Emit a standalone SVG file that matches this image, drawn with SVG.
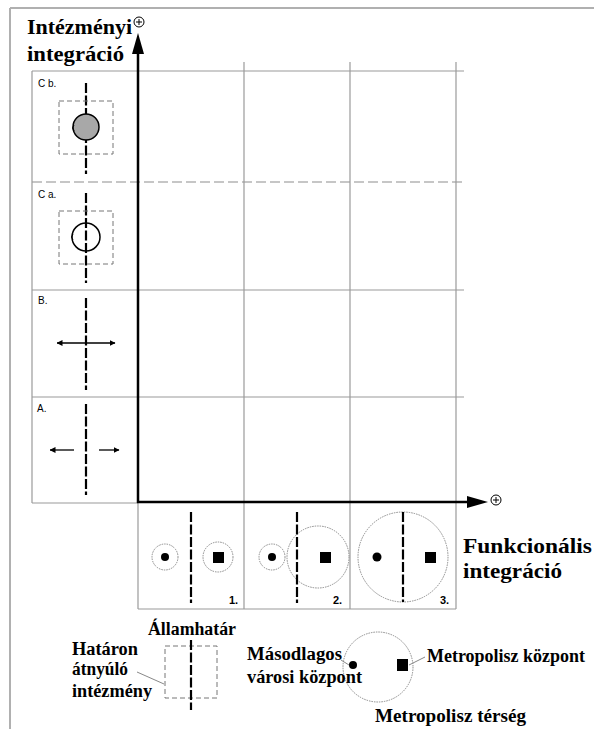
<svg xmlns="http://www.w3.org/2000/svg" width="594" height="731" viewBox="0 0 594 731">
<style>
.frame{fill:none;stroke:#b0b0b0;stroke-width:2}
.grid{fill:none;stroke:#9a9a9a;stroke-width:1.2}
.griddash{fill:none;stroke:#b4b4b4;stroke-width:1.5;stroke-dasharray:10 4}
.axis{fill:none;stroke:#000;stroke-width:2.5}
.head{fill:#000}
.border{fill:none;stroke:#000;stroke-width:2.2;stroke-dasharray:10 2.5}
.inst{fill:none;stroke:#777;stroke-width:1;stroke-dasharray:5 3}
.arr{fill:none;stroke:#000;stroke-width:1.3}
.dotc{fill:none;stroke:#8a8a8a;stroke-width:1;stroke-dasharray:1.5 1}
.lead{fill:none;stroke:#888;stroke-width:1}
.plus{fill:#fff;stroke:#000;stroke-width:1}
.big{font-family:"Liberation Serif","Times New Roman",serif;font-weight:bold;fill:#000}
.small{font-family:"Liberation Sans",Arial,sans-serif;font-size:10px;fill:#000}
.num{font-family:"Liberation Sans",Arial,sans-serif;font-size:11px;font-weight:bold;fill:#000}
</style>
<defs>
<marker id="ah" viewBox="0 0 6 6" refX="5.5" refY="3" markerWidth="6" markerHeight="6" markerUnits="userSpaceOnUse" orient="auto-start-reverse">
<path d="M0,0 L6,3 L0,6 z" fill="#000"/>
</marker>
</defs>

<g id="frame">
<line class="frame" x1="10" y1="8" x2="594" y2="8"/>
<line class="frame" x1="10" y1="8" x2="10" y2="729"/>
</g>

<g id="grid">
<line class="grid" x1="32" y1="71" x2="464" y2="71"/>
<line class="griddash" x1="32" y1="182" x2="464" y2="182"/>
<line class="grid" x1="32" y1="290" x2="464" y2="290"/>
<line class="grid" x1="32" y1="397" x2="464" y2="397"/>
<line class="grid" x1="32" y1="71" x2="32" y2="503"/>
<line class="grid" x1="32" y1="503" x2="138" y2="503"/>
<line class="grid" x1="244" y1="62" x2="244" y2="609"/>
<line class="grid" x1="350" y1="62" x2="350" y2="609"/>
<line class="grid" x1="456" y1="62" x2="456" y2="609"/>
<line class="grid" x1="138" y1="503" x2="138" y2="609"/>
<line class="grid" x1="138" y1="609" x2="456" y2="609"/>
</g>

<g id="connectors">
<line class="axis" x1="138" y1="503" x2="138" y2="50"/>
<polygon class="head" points="138,33 132,54 144,54"/>
<line class="axis" x1="137" y1="502" x2="470" y2="502"/>
<polygon class="head" points="488,502 467,496 467,508"/>
<line class="lead" x1="137" y1="672" x2="164" y2="684"/>
<line class="lead" x1="341" y1="660" x2="349" y2="665"/>
<line class="lead" x1="409" y1="665" x2="425" y2="657"/>
</g>

<g id="axis-labels">
<circle class="plus" cx="139" cy="22" r="5"/>
<path d="M139,19 V25 M136,22 H142" stroke="#000" stroke-width="1"/>
<circle class="plus" cx="496" cy="500" r="5"/>
<path d="M496,497 V503 M493,500 H499" stroke="#000" stroke-width="1"/>
<text class="big" x="27" y="34" font-size="20" textLength="105" lengthAdjust="spacingAndGlyphs">Intézményi</text>
<text class="big" x="27" y="61" font-size="20" textLength="97" lengthAdjust="spacingAndGlyphs">integráció</text>
<text class="big" x="463" y="553" font-size="21" textLength="129" lengthAdjust="spacingAndGlyphs">Funkcionális</text>
<text class="big" x="463" y="578" font-size="21" textLength="99" lengthAdjust="spacingAndGlyphs">integráció</text>
</g>

<g id="panel-cb">
<text class="small" x="38" y="87">C b.</text>
<line class="border" x1="86" y1="83" x2="86" y2="174"/>
<rect class="inst" x="59" y="101" width="54" height="53"/>
<circle cx="86" cy="127" r="13" fill="#a8a8a8" stroke="#000" stroke-width="1.5"/>
<path d="M74,125 L72.5,128 L74,131" fill="none" stroke="#000" stroke-width="1"/>
</g>

<g id="panel-ca">
<text class="small" x="38" y="198">C a.</text>
<line class="border" x1="86" y1="193" x2="86" y2="283"/>
<rect class="inst" x="59" y="211" width="54" height="53"/>
<circle cx="86" cy="237" r="14" fill="none" stroke="#000" stroke-width="1.5"/>
<path d="M73,234 L71.5,237 L73,240" fill="none" stroke="#000" stroke-width="1"/>
</g>

<g id="panel-b">
<text class="small" x="38" y="304">B.</text>
<line class="border" x1="86" y1="298" x2="86" y2="390"/>
<line class="arr" x1="57" y1="343" x2="115" y2="343" marker-start="url(#ah)" marker-end="url(#ah)"/>
</g>

<g id="panel-a">
<text class="small" x="37" y="412">A.</text>
<line class="border" x1="86" y1="404" x2="86" y2="495"/>
<line class="arr" x1="74" y1="450" x2="50" y2="450" marker-end="url(#ah)"/>
<line class="arr" x1="99" y1="450" x2="119" y2="450" marker-end="url(#ah)"/>
</g>

<g id="panel-1">
<line class="border" x1="191" y1="512" x2="191" y2="603"/>
<circle class="dotc" cx="165" cy="557" r="13"/>
<circle cx="165" cy="557" r="4" fill="#000"/>
<circle class="dotc" cx="218" cy="557" r="15"/>
<rect x="213" y="552" width="11" height="11" fill="#000"/>
<text class="num" x="229" y="604">1.</text>
</g>

<g id="panel-2">
<circle class="dotc" cx="272" cy="557" r="13"/>
<circle cx="272" cy="557" r="4" fill="#000"/>
<circle class="dotc" cx="318" cy="557" r="31"/>
<line class="border" x1="297" y1="512" x2="297" y2="603"/>
<rect x="320" y="552" width="11" height="11" fill="#000"/>
<text class="num" x="333" y="604">2.</text>
</g>

<g id="panel-3">
<circle class="dotc" cx="403" cy="557" r="45"/>
<line class="border" x1="403" y1="512" x2="403" y2="602"/>
<circle cx="377" cy="557" r="4.5" fill="#000"/>
<rect x="425" y="552" width="11" height="11" fill="#000"/>
<text class="num" x="440" y="604">3.</text>
</g>

<g id="legend-institution">
<text class="big" x="148" y="635" font-size="18" textLength="88" lengthAdjust="spacingAndGlyphs">Államhatár</text>
<text class="big" x="72" y="655" font-size="18" textLength="66" lengthAdjust="spacingAndGlyphs">Határon</text>
<text class="big" x="72" y="675" font-size="18" textLength="56" lengthAdjust="spacingAndGlyphs">átnyúló</text>
<text class="big" x="72" y="697" font-size="18" textLength="80" lengthAdjust="spacingAndGlyphs">intézmény</text>
<rect class="inst" x="165" y="646" width="52" height="52"/>
<line class="border" x1="191" y1="640" x2="191" y2="710"/>
</g>

<g id="legend-metro">
<circle class="dotc" cx="378" cy="667" r="35"/>
<circle cx="353" cy="665" r="4" fill="#000"/>
<rect x="397" y="659" width="11" height="12" fill="#000"/>
<text class="big" x="247" y="660" font-size="18" textLength="95" lengthAdjust="spacingAndGlyphs">Másodlagos</text>
<text class="big" x="247" y="683" font-size="18" textLength="115" lengthAdjust="spacingAndGlyphs">városi központ</text>
<text class="big" x="427" y="662" font-size="18" textLength="158" lengthAdjust="spacingAndGlyphs">Metropolisz központ</text>
<text class="big" x="375" y="722" font-size="18" textLength="151" lengthAdjust="spacingAndGlyphs">Metropolisz térség</text>
</g>
</svg>
